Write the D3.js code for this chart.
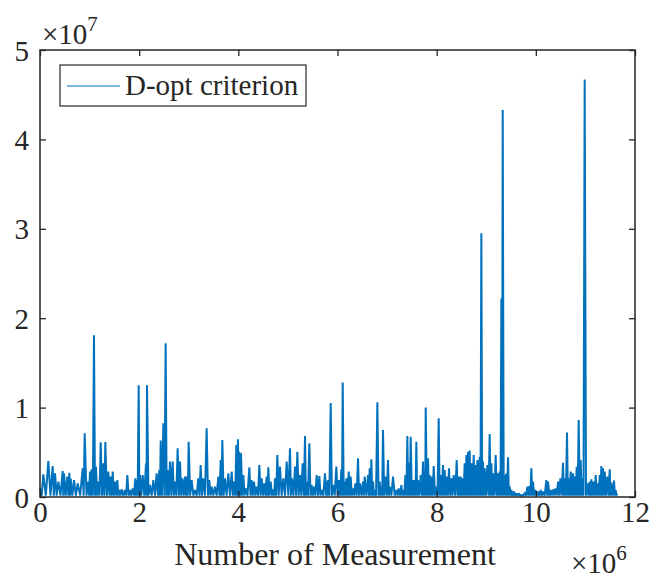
<!DOCTYPE html>
<html><head><meta charset="utf-8">
<script src="https://cdn.jsdelivr.net/npm/d3@7"></script>
<style>body{margin:0;background:#fff}svg{display:block}text{font-family:"Liberation Serif","Times New Roman",serif;fill:#262626}</style>
</head><body><svg id="c" width="649" height="579"></svg>
<script>
const measM = [0.00,0.067,0.168,0.255,0.303,0.370,0.457,0.484,0.551,0.592,0.618,0.686,0.760,0.861,0.901,0.975,1.008,1.042,1.089,1.129,1.176,1.224,1.277,1.318,1.378,1.425,1.466,1.513,1.560,1.600,1.647,1.714,1.761,1.815,1.869,1.923,1.950,1.990,2.017,2.071,2.138,2.158,2.218,2.286,2.353,2.407,2.434,2.487,2.534,2.575,2.622,2.676,2.723,2.776,2.824,2.871,2.924,2.965,2.998,3.059,3.126,3.193,3.240,3.294,3.361,3.415,3.462,3.529,3.597,3.644,3.677,3.731,3.798,3.866,3.913,3.960,3.993,4.020,4.054,4.101,4.148,4.222,4.269,4.316,4.370,4.424,4.471,4.524,4.571,4.605,4.652,4.706,4.739,4.787,4.840,4.908,4.975,5.042,5.082,5.143,5.190,5.244,5.297,5.345,5.378,5.432,5.479,5.526,5.580,5.634,5.681,5.748,5.795,
5.809,5.863,5.910,5.977,6.024,6.078,6.105,6.145,6.179,6.226,6.266,6.313,6.360,6.414,6.454,6.515,6.548,6.616,6.649,6.683,6.717,6.750,6.804,6.851,6.885,6.918,6.965,7.019,7.053,7.120,7.187,7.234,7.288,7.322,7.369,7.409,7.443,7.476,7.523,7.557,7.590,7.624,7.678,7.725,7.759,7.779,7.826,7.859,7.906,7.940,7.994,8.041,8.081,8.128,8.162,8.202,8.249,8.296,8.343,8.404,8.444,8.485,8.518,8.565,8.599,8.633,8.666,8.700,8.747,8.780,8.821,8.868,8.901,8.935,8.969,9.022,9.069,9.103,9.143,9.190,9.237,9.271,9.305,9.332,9.372,9.406,9.439,9.473,9.507,9.560,9.607,9.654,9.708,9.775,9.829,9.869,9.910,9.943,9.991,10.044,10.098,10.145,10.212,10.246,10.300,10.347,10.394,10.448,10.495,10.548,10.582,10.629,10.663,10.703,10.750,10.784,10.824,10.864,10.905,10.939,10.985,11.039,11.086,11.120,11.167,11.207,11.254,11.288,11.321,11.355,11.389,11.442,11.490,11.523,11.577,11.611,11.638];
const critM = [0.97,2.54,4.03,3.47,2.65,1.72,2.91,2.65,2.28,2.72,2.09,1.90,1.53,3.21,7.13,1.72,2.84,3.10,18.1,3.40,1.72,6.12,3.77,6.16,2.84,2.28,2.84,1.72,1.90,0.78,0.86,0.78,2.46,0.78,0.97,2.09,1.90,12.5,2.46,2.46,3.77,12.5,1.34,1.90,2.65,3.02,6.31,8.25,17.2,3.02,3.96,3.96,1.72,5.45,3.96,2.09,2.28,2.28,6.19,1.90,0.78,2.09,3.58,2.09,7.69,1.90,1.16,1.16,2.28,4.14,6.38,2.09,2.65,2.84,1.72,5.82,6.46,5.07,4.89,2.46,0.97,3.32,1.90,1.72,1.16,3.58,2.09,1.53,2.28,3.32,1.72,0.86,2.09,4.70,3.40,2.09,3.96,5.45,2.09,3.40,5.07,2.46,3.77,6.83,1.72,6.01,1.34,1.16,2.46,2.35,0.78,2.65,1.72,
1.90,10.5,1.34,3.40,1.90,3.10,12.8,1.72,2.09,2.84,2.28,0.97,1.53,4.33,1.53,1.72,2.28,2.46,3.21,4.22,1.72,0.78,10.6,1.72,1.16,7.50,2.28,4.14,1.16,2.28,0.78,0.97,1.34,0.78,2.46,6.83,3.84,6.75,1.90,1.90,6.19,1.90,2.46,3.96,2.46,10.0,4.33,2.46,2.28,3.47,1.16,8.81,2.46,3.58,3.02,2.28,3.21,2.09,2.46,4.14,2.28,2.28,2.09,3.77,4.70,5.07,5.19,3.77,4.70,3.58,4.14,4.51,29.5,3.96,3.21,3.58,7.05,3.77,2.65,4.70,2.65,2.84,22.2,43.3,2.46,2.65,4.44,1.16,0.78,0.60,0.41,0.41,0.22,0.41,1.16,1.23,3.21,1.72,0.78,0.60,0.78,0.60,1.90,1.72,0.78,0.86,0.97,1.72,2.09,3.84,2.09,7.20,2.09,2.84,2.65,2.28,3.40,8.62,4.14,2.09,46.7,1.53,1.72,1.98,1.72,2.46,1.53,2.46,3.47,3.21,2.84,2.28,3.10,1.60,1.83,0.78,0.41];
const floorM = 0.15; // lower envelope of the signal (millions)
const xTicks = [0,2,4,6,8,10,12];
const yTicks = [0,1,2,3,4,5];
const seriesName = "D-opt criterion";

const svg = d3.select("#c");
const L=40,R=635,T=50,B=497;
const x = d3.scaleLinear().domain([0,12e6]).range([L,R]);
const y = d3.scaleLinear().domain([0,5e7]).range([B,T]);
const blue = "#0072BD";
const FS = 29;

// zigzag signal: each reading is followed by a trough at the signal floor
const pts = [];
for (let i=0;i<measM.length;i++){
  pts.push([measM[i]*1e6, critM[i]*1e6]);
  if (i<measM.length-1) pts.push([(measM[i]+measM[i+1])/2*1e6, floorM*1e6]);
}
const g = svg.append("g");
g.append("path").datum(pts)
  .attr("fill","none").attr("stroke",blue).attr("stroke-width",2).attr("stroke-linejoin","miter").attr("stroke-miterlimit",2)
  .attr("d", d3.line().x(d=>x(d[0])).y(d=>y(d[1])));

// axes box with inward ticks on all sides
const axColor="#262626";
const mk=(ax)=>ax.tickSizeInner(-6).tickSizeOuter(0).tickPadding(10);
const fmtX = d=>d/1e6, fmtY=d=>d/1e7;
const ax = svg.append("g").attr("transform",`translate(0,${B})`).call(mk(d3.axisBottom(x)).tickValues(xTicks.map(v=>v*1e6)).tickFormat(fmtX));
const axT = svg.append("g").attr("transform",`translate(0,${T})`).call(mk(d3.axisTop(x)).tickValues(xTicks.map(v=>v*1e6)).tickFormat(""));
const ay = svg.append("g").attr("transform",`translate(${L},0)`).call(mk(d3.axisLeft(y)).tickValues(yTicks.map(v=>v*1e7)).tickFormat(fmtY));
const ayR = svg.append("g").attr("transform",`translate(${R},0)`).call(mk(d3.axisRight(y)).tickValues(yTicks.map(v=>v*1e7)).tickFormat(""));
[ax,axT,ay,ayR].forEach(a=>{
  a.select(".domain").remove();
  a.selectAll("line").attr("stroke",axColor).attr("stroke-width",1.3);
  a.selectAll("text").attr("font-size",FS).attr("fill","#262626");
});
ax.selectAll("text").attr("dy","0.5em");
ay.selectAll("text").attr("x",-11).attr("dy","0.35em");
svg.append("rect").attr("x",L).attr("y",T).attr("width",R-L).attr("height",B-T)
  .attr("fill","none").attr("stroke",axColor).attr("stroke-width",1.5);

// exponent labels
const e7 = svg.append("text").attr("x",42).attr("y",44).attr("font-size",FS);
e7.append("tspan").text("×10");
e7.append("tspan").attr("font-size",21).attr("dy",-13).text("7");
const e6 = svg.append("text").attr("x",571).attr("y",573).attr("font-size",FS);
e6.append("tspan").text("×10");
e6.append("tspan").attr("font-size",21).attr("dy",-13).text("6");

// x label
svg.append("text").attr("x",335).attr("y",565).attr("text-anchor","middle").attr("font-size",32).text("Number of Measurement");

// legend
const lg = svg.append("g");
lg.append("rect").attr("x",60).attr("y",65).attr("width",246).attr("height",41).attr("fill","#fff").attr("stroke",axColor).attr("stroke-width",1.2);
lg.append("line").attr("x1",67).attr("x2",120).attr("y1",86).attr("y2",86).attr("stroke",blue).attr("stroke-width",1);
lg.append("text").attr("x",125).attr("y",95).attr("font-size",FS).text(seriesName);
</script></body></html>
